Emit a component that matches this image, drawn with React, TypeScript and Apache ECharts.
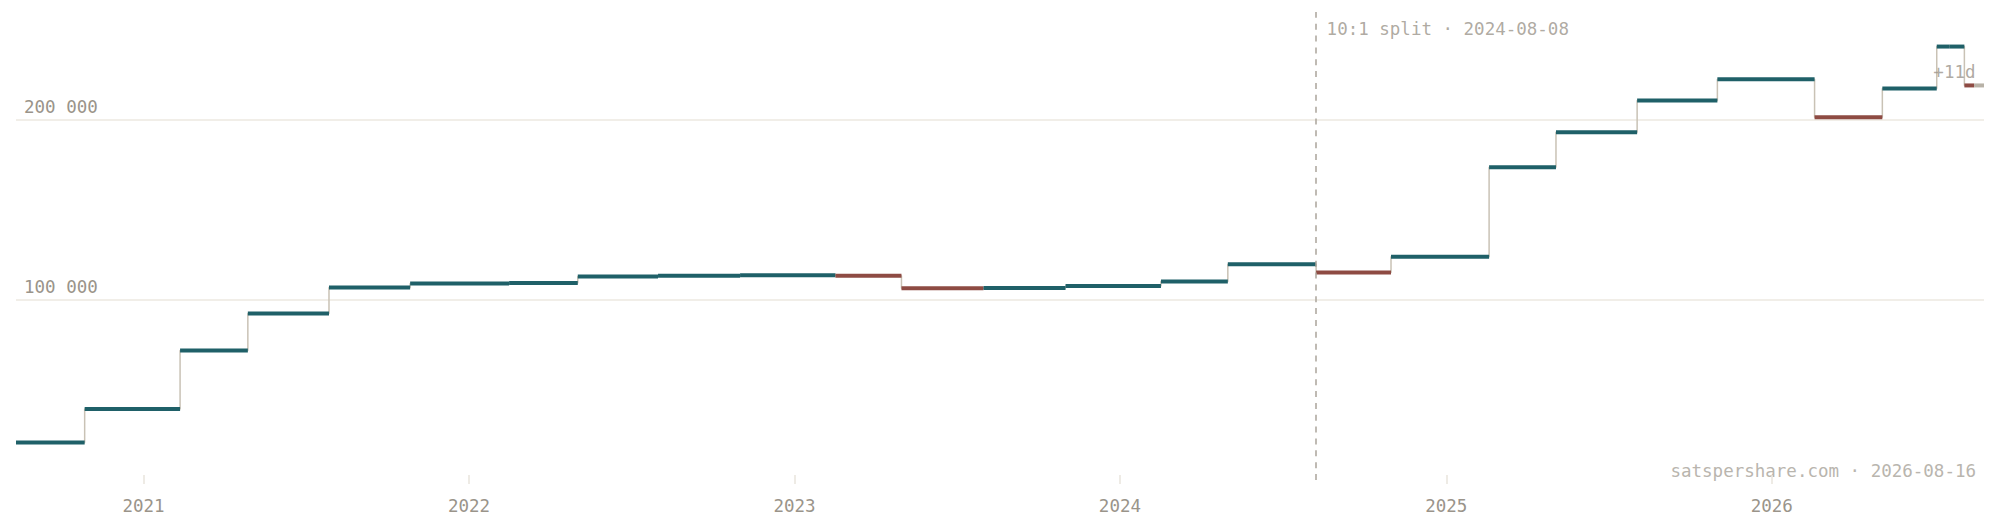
import React, { useEffect, useRef } from "react";
import * as echarts from "echarts";

// ---- data ----
const stepDates = [
  "2020-08-11", "2020-10-27", "2021-02-11", "2021-04-28", "2021-07-28",
  "2021-10-27", "2022-02-15", "2022-05-03", "2022-08-01", "2022-11-01",
  "2023-02-16", "2023-05-01", "2023-08-01", "2023-11-01", "2024-02-16",
  "2024-05-01", "2024-08-08", "2024-10-31", "2025-02-18", "2025-05-04",
  "2025-08-03", "2025-11-01", "2026-02-18", "2026-05-05", "2026-07-05",
  "2026-07-12", "2026-07-19", "2026-08-05", "2026-08-16",
];
const stepValues = [
  20800, 39500, 72000, 92500, 107000,
  109200, 109400, 113000, 113500, 113800,
  113500, 106500, 106700, 107800, 110300,
  119800, 115300, 124000, 173800, 193200,
  210800, 222700, 201500, 217500, 240800,
  240800, 240800, 219200, 219200,
];
const projectionStart = "2026-08-16";
const endDate = "2026-08-27";
const splitDate = "2024-08-08";
const splitLabel = "10:1 split · 2024-08-08";
const projectionLabel = "+11d";
const footerText = "satspershare.com · 2026-08-16";

const FONT = "'DejaVu Sans Mono', monospace";
const TEXT = "#9a948a";
const KIND_COLORS = ["#1f6068", "#8e4b43", "#b8b2a7"]; // up, down, projected

const toMs = (d: string) => Date.parse(d + "T00:00:00Z");

export default function App() {
  const ref = useRef<HTMLDivElement>(null);

  useEffect(() => {
    document.body.style.margin = "0";
    if (!ref.current) return;
    const chart = echarts.init(ref.current, undefined, { renderer: "svg" });

    const segments = stepDates.map((d, i) => {
      const kind =
        d >= projectionStart ? 2 : i > 0 && stepValues[i] < stepValues[i - 1] ? 1 : 0;
      return [toMs(d), toMs(stepDates[i + 1] ?? endDate), stepValues[i], kind];
    });
    const stepLine = stepDates.map((d, i) => [toMs(d), stepValues[i]]);
    stepLine.push([toMs(endDate), stepValues[stepValues.length - 1]]);

    const fmtThousands = (v: number) =>
      String(v).replace(/\B(?=(\d{3})+(?!\d))/g, "\u202F");

    const labelStyle = {
      show: true,
      color: TEXT,
      fontFamily: FONT,
      fontSize: 17.5,
    };

    chart.setOption({
      animation: false,
      backgroundColor: "#ffffff",
      grid: { left: 16, right: 16, top: 12, bottom: 48 },
      xAxis: {
        type: "time",
        min: toMs(stepDates[0]),
        max: toMs(endDate),
        splitNumber: 6,
        minInterval: 365 * 24 * 3600 * 1000,
        offset: -5,
        axisLine: { show: false },
        axisTick: { show: true, length: 9, lineStyle: { color: "#e8e4dc", width: 1.5 } },
        splitLine: { show: false },
        axisLabel: {
          margin: 22,
          color: TEXT,
          fontFamily: FONT,
          fontSize: 17.5,
          formatter: (v: number) => String(new Date(v).getUTCFullYear()),
        },
      },
      yAxis: {
        type: "value",
        min: 0,
        max: 260000,
        interval: 100000,
        axisLine: { show: false },
        axisTick: { show: false },
        splitLine: {
          show: true,
          showMinLine: false,
          showMaxLine: false,
          lineStyle: { color: "#ece8e1", width: 1.5 },
        },
        axisLabel: {
          inside: true,
          margin: 8,
          verticalAlign: "bottom",
          padding: [0, 0, 4, 0],
          color: TEXT,
          fontFamily: FONT,
          fontSize: 17.5,
          showMinLabel: false,
          showMaxLabel: false,
          formatter: (v: number) => (v > 0 && v % 100000 === 0 ? fmtThousands(v) : ""),
        },
      },
      series: [
        {
          type: "line",
          step: "end",
          data: stepLine,
          symbol: "none",
          lineStyle: { color: "#c9c2b5", width: 1.5 },
          z: 1,
          markLine: {
            silent: true,
            symbol: "none",
            label: { show: false },
            lineStyle: { color: "#aaa49a", width: 1.5, type: [6, 5.85] },
            data: [{ xAxis: toMs(splitDate) }],
          },
        },
        {
          type: "custom",
          data: segments,
          encode: { x: [0, 1], y: 2 },
          z: 3,
          renderItem: (params: any, api: any) => {
            const s = api.coord([api.value(0), api.value(2)]);
            const e = api.coord([api.value(1), api.value(2)]);
            const k = api.value(3);
            return {
              type: "line",
              shape: { x1: s[0], y1: s[1], x2: e[0], y2: e[1] },
              style: { stroke: KIND_COLORS[k], lineWidth: 4, lineCap: "butt" },
            };
          },
        },
        {
          type: "scatter",
          silent: true,
          symbolSize: 1,
          itemStyle: { color: "rgba(0,0,0,0)" },
          z: 5,
          data: [
            {
              value: [toMs(splitDate), 250500],
              label: { ...labelStyle, position: "right", distance: 10, formatter: splitLabel },
            },
            {
              value: [toMs(endDate), 226700],
              label: { ...labelStyle, position: "left", distance: 8, formatter: projectionLabel },
            },
          ],
        },
      ],
      graphic: [
        {
          type: "text",
          right: 24,
          top: 462,
          style: {
            text: footerText,
            fill: "#b9b5ae",
            font: `17.5px ${FONT}`,
          },
        },
      ],
    });

    return () => chart.dispose();
  }, []);

  return <div ref={ref} style={{ width: 2000, height: 528 }} />;
}
